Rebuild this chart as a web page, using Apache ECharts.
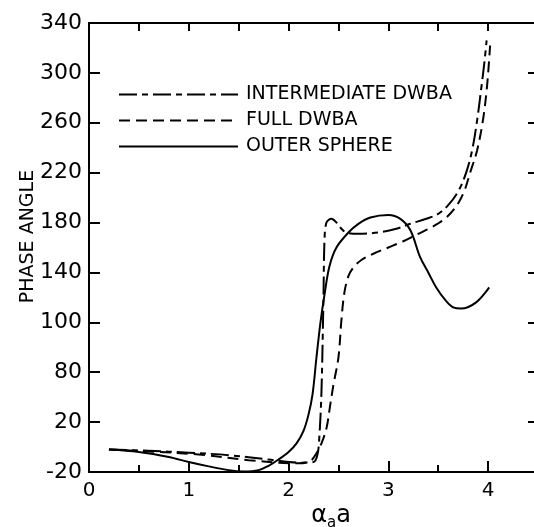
<!DOCTYPE html>
<html>
<head>
<meta charset="utf-8">
<script src="https://cdn.jsdelivr.net/npm/echarts@6/dist/echarts.min.js"></script>
<style>
html,body{margin:0;padding:0;background:#fff;}
#chart{width:534px;height:527px;}
</style>
</head>
<body>
<div id="chart"></div>
<script>
// ---- data ----
const seriesNames = ['INTERMEDIATE DWBA', 'FULL DWBA', 'OUTER SPHERE'];

const intermediateX = [0.2,0.6,1.0,1.4,1.8,2.1,2.25,2.29,2.31,2.33,2.35,2.36,2.38,2.43,2.48,2.53,2.58,2.7,2.9,3.08,3.22,3.38,3.5,3.6,3.7,3.78,3.84,3.89,3.935,3.965,3.985];
const intermediateY = [-2,-3,-4.5,-6.5,-10,-12.5,-12,-6,10,45,120,165,180,183,180,175,172,171,172,175,179,183,187,194,205,220,238,262,290,310,326];

const fullX = [0.2,0.6,1.1,1.6,1.9,2.1,2.22,2.28,2.33,2.38,2.42,2.45,2.5,2.53,2.56,2.6,2.65,2.73,2.85,3.0,3.15,3.3,3.45,3.58,3.68,3.76,3.82,3.89,3.95,3.99,4.02];
const fullY = [-2,-3.5,-6,-10.5,-12.5,-13,-11,-5,3,15,35,50,72,102,124,137,144,150,155,160,165,171,177,184,193,205,220,238,263,290,322];

const outerX = [0.2,0.5,0.8,1.0,1.2,1.4,1.55,1.7,1.8,1.9,2.0,2.08,2.15,2.2,2.24,2.28,2.32,2.36,2.41,2.48,2.6,2.7,2.82,3.0,3.12,3.22,3.32,3.4,3.48,3.58,3.65,3.73,3.88,4.01];
const outerY = [-2,-4,-8,-12,-15.5,-18.5,-19.5,-18.5,-15,-10,-4,3,13,26,42,72,100,122,145,160,172,179,184,186,183,174,152,140,128,117,112,111,116,128];

const xTickValues = [0,1,2,3,4];
const xTickLabels = ['0','1','2','3','4'];
const xHalfTicks = [0.5,1.5,2.5,3.5];
const xTopTicks = [0.5,1,1.5,2,2.5,3,3.5,4];
const yTickValues = [-20,20,60,100,140,180,220,260,300,340];
const yTickLabels = ['-20','20','80','100','140','180','220','260','300','340'];
const yRightTicks = [20,60,100,140,180,220,260,300];

// ---- chart ----
function zip(xs, ys){ return xs.map((x,i)=>[x, ys[i]]); }
const FONT = 'DejaVu Sans';
const BLACK = '#000';
const X_MIN = 0, X_MAX = 4.47, Y_MIN = -20, Y_MAX = 340;
const gridBox = {left: 89, right: -1, top: 23, bottom: 55, outerBoundsMode: 'none', containLabel: false};

const chart = echarts.init(document.getElementById('chart'), null, {renderer: 'canvas'});
const option = {
  animation: false,
  backgroundColor: '#fff',
  grid: [Object.assign({}, gridBox), Object.assign({}, gridBox)],
  legend: {
    orient: 'vertical',
    left: 113,
    top: 80,
    itemWidth: 119,
    itemHeight: 20,
    itemGap: 7,
    data: seriesNames,
    itemStyle: {opacity: 0, color: 'rgba(0,0,0,0)', borderWidth: 0},
    textStyle: {fontFamily: FONT, fontSize: 19, color: BLACK, padding: [0,0,0,3]}
  },
  xAxis: [
    {
      gridIndex: 0, type: 'value', position: 'bottom', min: X_MIN, max: X_MAX,
      axisLine: {show: true, onZero: false, lineStyle: {color: BLACK, width: 2}},
      axisTick: {show: true, inside: true, length: 11, customValues: xTickValues, lineStyle: {color: BLACK, width: 2}},
      axisLabel: {customValues: xTickValues, margin: 9, fontFamily: FONT, fontSize: 20, color: BLACK,
        formatter: v => { const i = xTickValues.indexOf(v); return i >= 0 ? xTickLabels[i] : ''; }},
      splitLine: {show: false},
      name: 'α{s|a}a',
      nameLocation: 'middle',
      nameGap: 32,
      nameMoveOverlap: false,
      nameTextStyle: {fontFamily: FONT, fontSize: 24, color: BLACK, lineHeight: 24, verticalAlign: 'top', padding: [0,0,0,38],
        rich: {s: {fontFamily: FONT, fontSize: 15, lineHeight: 15, color: BLACK, verticalAlign: 'top', padding: [12,0,0,0]}}}
    },
    {
      gridIndex: 0, type: 'value', position: 'top', min: X_MIN, max: X_MAX,
      axisLine: {show: true, onZero: false, lineStyle: {color: BLACK, width: 2}},
      axisTick: {show: true, inside: true, length: 8, customValues: xTopTicks, lineStyle: {color: BLACK, width: 2}},
      axisLabel: {show: false},
      splitLine: {show: false}
    },
    {
      gridIndex: 1, type: 'value', position: 'bottom', min: X_MIN, max: X_MAX,
      axisLine: {show: false, onZero: false},
      axisTick: {show: true, inside: true, length: 7, customValues: xHalfTicks, lineStyle: {color: BLACK, width: 2}},
      axisLabel: {show: false},
      splitLine: {show: false}
    }
  ],
  yAxis: [
    {
      gridIndex: 0, type: 'value', position: 'left', min: Y_MIN, max: Y_MAX,
      axisLine: {show: true, onZero: false, lineStyle: {color: BLACK, width: 2}},
      axisTick: {show: true, inside: true, length: 11, customValues: yTickValues, lineStyle: {color: BLACK, width: 2}},
      axisLabel: {customValues: yTickValues, margin: 7, fontFamily: FONT, fontSize: 22, color: BLACK,
        formatter: v => { const i = yTickValues.indexOf(v); return i >= 0 ? yTickLabels[i] : ''; }},
      splitLine: {show: false},
      name: 'PHASE ANGLE',
      nameLocation: 'middle',
      nameGap: 51,
      nameMoveOverlap: false,
      nameTextStyle: {fontFamily: FONT, fontSize: 19, color: BLACK, padding: [0,0,0,22]}
    },
    {
      gridIndex: 0, type: 'value', position: 'right', min: Y_MIN, max: Y_MAX,
      axisLine: {show: true, onZero: false, lineStyle: {color: BLACK, width: 2}},
      axisTick: {show: true, inside: true, length: 7, customValues: yRightTicks, lineStyle: {color: BLACK, width: 2}},
      axisLabel: {show: false},
      splitLine: {show: false}
    },
    {
      gridIndex: 1, type: 'value', min: Y_MIN, max: Y_MAX, show: false
    }
  ],
  series: [
    {
      name: seriesNames[0], type: 'line', xAxisIndex: 0, yAxisIndex: 0,
      data: zip(intermediateX, intermediateY),
      symbol: 'none', showSymbol: false, smooth: 0.35,
      lineStyle: {color: BLACK, width: 2, type: [18,5,6,5]}, itemStyle: {color: BLACK}
    },
    {
      name: seriesNames[1], type: 'line', xAxisIndex: 0, yAxisIndex: 0,
      data: zip(fullX, fullY),
      symbol: 'none', showSymbol: false, smooth: 0.35,
      lineStyle: {color: BLACK, width: 2, type: [11,6]}, itemStyle: {color: BLACK}
    },
    {
      name: seriesNames[2], type: 'line', xAxisIndex: 0, yAxisIndex: 0,
      data: zip(outerX, outerY),
      symbol: 'none', showSymbol: false, smooth: 0.35,
      lineStyle: {color: BLACK, width: 2, type: 'solid'}, itemStyle: {color: BLACK}
    }
  ]
};
chart.setOption(option);
</script>
</body>
</html>
